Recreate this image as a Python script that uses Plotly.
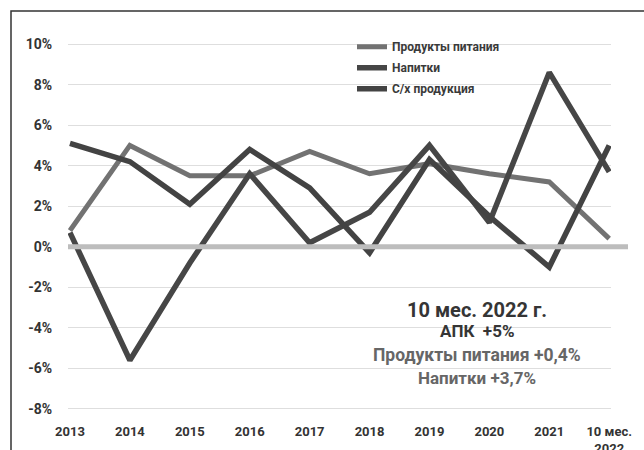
import plotly.graph_objects as go

# Annual growth, % year over year
years = ["2013", "2014", "2015", "2016", "2017", "2018", "2019", "2020", "2021", "10 мес.<br>2022"]
food = [0.8, 5.0, 3.5, 3.5, 4.7, 3.6, 4.1, 3.6, 3.2, 0.4]
drinks = [0.7, -5.6, -0.8, 3.6, 0.2, 1.7, 5.0, 1.2, 8.6, 3.7]
agri = [5.1, 4.2, 2.1, 4.8, 2.9, -0.3, 4.3, 1.5, -1.0, 5.0]

y_ticks = [-8, -6, -4, -2, 0, 2, 4, 6, 8, 10]
y_tick_text = [f"{v}%" for v in y_ticks]

summary = [
    ("10 мес. 2022 г.", 20, "#353535"),
    ("АПК  +5%", 17, "#353535"),
    ("Продукты питания +0,4%", 17.5, "#666666"),
    ("Напитки +3,7%", 17, "#666666"),
]

FONT = "Roboto"
x_idx = list(range(len(years)))

# plot area in pixels
L, R, T, B = 68, 611, 40, 413
PW, PH = R - L, B - T

fig = go.Figure()
series = [
    ("Продукты питания", food, "#727272", 5),
    ("Напитки", drinks, "#464646", 5.5),
    ("С/х продукция", agri, "#434343", 5.5),
]
for i, (name, vals, color, width) in enumerate(series):
    fig.add_trace(go.Scatter(
        x=x_idx, y=vals, name=name, mode="lines",
        line=dict(color=color, width=width),
        legendgroup=f"g{i}",
    ))

# light zero line over the series
fig.add_shape(type="line", xref="paper", yref="y", x0=0, x1=(628 - L) / PW, y0=0, y1=0,
              line=dict(color="#bdbdbd", width=5), layer="above")

# frame around the chart
fig.add_shape(type="rect", xref="paper", yref="paper",
              x0=(11 - L) / PW, x1=1.3,
              y0=-0.3, y1=1 + (T - 11) / PH,
              line=dict(color="#333333", width=1.5), layer="below")

y_pos = [310, 331, 355, 378]
for (txt, size, color), yp in zip(summary, y_pos):
    fig.add_annotation(
        text=txt, xref="paper", yref="paper",
        x=(477 - L) / PW, y=1 - (yp - T) / PH,
        showarrow=False, xanchor="center", yanchor="middle",
        font=dict(family=FONT, size=size, color=color, weight=700),
    )

fig.update_layout(
    width=644, height=450,
    margin=dict(l=L, r=644 - R, t=T, b=450 - B, autoexpand=False),
    paper_bgcolor="white", plot_bgcolor="white",
    showlegend=True,
    legend=dict(
        x=(352 - L) / PW, y=1.021, xanchor="left", yanchor="top",
        bgcolor="rgba(0,0,0,0)", traceorder="grouped", tracegroupgap=2,
        font=dict(family=FONT, size=12, color="#3a3a3a", weight=700),
        itemwidth=30,
    ),
    xaxis=dict(
        range=[-0.033, 9.03], tickvals=x_idx, ticktext=years,
        showgrid=False, zeroline=False, showline=False, automargin=False,
        ticks="outside", ticklen=6, tickcolor="rgba(0,0,0,0)",
        tickfont=dict(family=FONT, size=13, color="#333333", weight=700),
    ),
    yaxis=dict(
        range=[-8.2, 10.2], tickvals=y_ticks, ticktext=y_tick_text,
        showgrid=True, gridcolor="#dedede", gridwidth=1,
        zeroline=False, showline=False, automargin=False,
        ticks="outside", ticklen=12, tickcolor="rgba(0,0,0,0)",
        tickfont=dict(family=FONT, size=14, color="#333333", weight=700),
    ),
)

fig.write_html("out.html")
